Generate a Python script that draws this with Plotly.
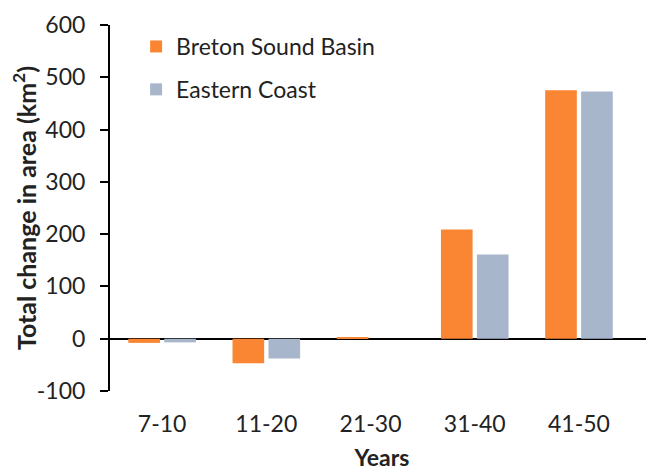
import plotly.graph_objects as go

categories = ["7-10", "11-20", "21-30", "31-40", "41-50"]
breton = [-8, -47, 3, 209, 475]
eastern = [-7, -38, 0, 161, 473]
y_ticks = [-100, 0, 100, 200, 300, 400, 500, 600]
y_tick_text = ["-100", "0", "100", "200", "300", "400", "500", "600"]

ORANGE = "#FA8533"
BLUEGRAY = "#A8B6CB"
FONT = "Lato"

fig = go.Figure()
fig.add_trace(go.Bar(x=categories, y=breton, name="Breton Sound Basin",
                     marker=dict(color=ORANGE, line=dict(width=0)), legendgroup="a"))
fig.add_trace(go.Bar(x=categories, y=eastern, name="Eastern Coast",
                     marker=dict(color=BLUEGRAY, line=dict(width=0)), legendgroup="b"))

fig.update_layout(
    template="none",
    width=654, height=470,
    margin=dict(l=102, r=8, t=17, b=87),
    paper_bgcolor="white", plot_bgcolor="white",
    font=dict(family=FONT, size=23, color="#222222"),
    barmode="group", bargap=0.31, bargroupgap=0.12,
    legend=dict(x=0.048, y=1.0, xanchor="left", yanchor="top",
                bgcolor="rgba(0,0,0,0)", tracegroupgap=10,
                font=dict(size=23), itemwidth=30),
    showlegend=True,
)
fig.update_xaxes(
    type="category", range=[-0.5, 4.72], showline=False, showgrid=False,
    ticks="", ticklabelstandoff=17, automargin=False,
    title=dict(text="<b>Years</b>", font=dict(size=23), standoff=13),
)
fig.update_yaxes(
    range=[-100, 600], tickvals=y_ticks, ticktext=y_tick_text, showgrid=False,
    showline=True, linecolor="black", linewidth=2,
    ticks="outside", ticklen=8, tickwidth=2, tickcolor="black",
    zeroline=True, zerolinecolor="black", zerolinewidth=2,
    ticklabelstandoff=10, automargin=False,
    title=dict(text="<b>Total change in area (km<sup>2</sup>)</b>", font=dict(size=25), standoff=4),
)
fig.write_html("out.html")
